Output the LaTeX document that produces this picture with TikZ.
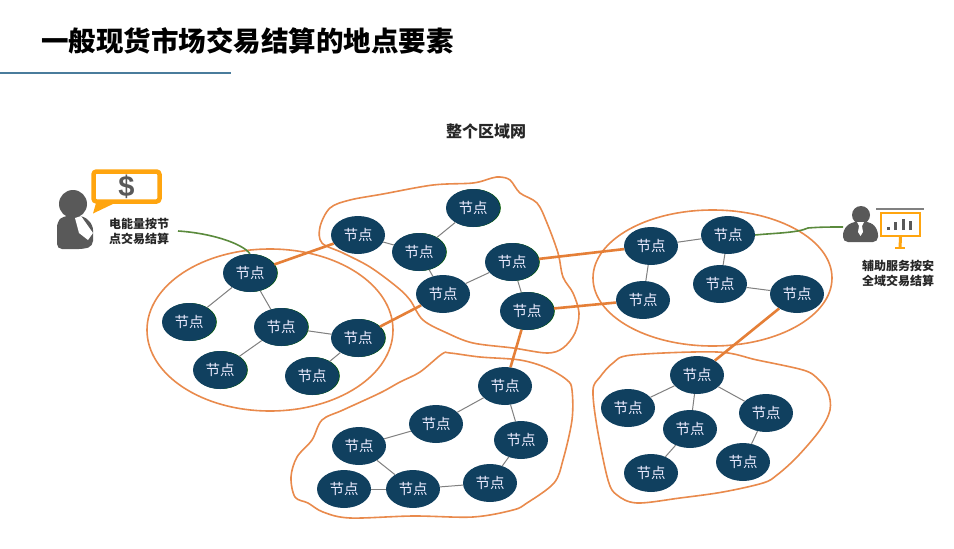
\documentclass[tikz,border=0pt]{standalone}
\usepackage{fontspec}
\setmainfont{Noto Sans CJK SC}
\newfontfamily\dollarfont{Liberation Sans}
\usepackage{xcolor}
\usepackage{tikz}
\usetikzlibrary{positioning, shapes.geometric}
\definecolor{shenlan}{HTML}{10405F}
\definecolor{jubian}{HTML}{E98A4C}
\definecolor{juxian}{HTML}{E57F37}
\definecolor{lvse}{HTML}{5A8A3C}
\definecolor{huise}{HTML}{595959}
\definecolor{chengse}{HTML}{FFA50F}
\definecolor{tiaose}{HTML}{4A7C9C}

\begin{document}
\begin{tikzpicture}[
  x=1pt, y=-1pt, on grid,
  jiedian/.style={ellipse, fill=shenlan, text=blue!8, font=\fontsize{14.5}{14.5}\selectfont, inner sep=0pt, minimum width=54pt, minimum height=38pt},
  jiedianlv/.style={jiedian, preaction={fill=green!35!black, transform canvas={xshift=.8pt}}},
  quyu/.style={draw=jubian, line width=1.6pt},
  lianxian/.style={draw=gray, line width=1pt},
  kuaxian/.style={draw=juxian, line width=2.6pt},
  lvxian/.style={draw=lvse, line width=1.6pt},
  biaozhu/.style={font=\fontsize{12}{15}\selectfont\bfseries, text=black!85, align=center, inner sep=0pt}
]
  \useasboundingbox (0,0) rectangle (954,549);
  \fill[white] (0,0) rectangle (954,549);

  \node[anchor=west, font=\fontsize{27.5}{30}\selectfont\bfseries, inner sep=0pt] (biaoti) at (41,41) {一般现货市场交易结算的地点要素};
  \fill[tiaose] (0,72) rectangle (231,74);
  \node[font=\fontsize{16}{18}\selectfont\bfseries, text=black!85, inner sep=0pt] (zhengge) at (486,131) {整个区域网};

  \draw[quyu] (270,330) ellipse [x radius=123, y radius=81];
  \draw[quyu] (712.5,278) ellipse [x radius=119.5, y radius=68];
  \draw[quyu] plot[smooth cycle, tension=.55] coordinates {(492,178) (500,177) (510,180) (520,193) (537,203) (547,223) (558,253) (563,277) (573,293) (579,313) (575,333) (563,348) (547,353) (513,348) (473,343) (447,333) (423,320) (410,300) (397,287) (370,267) (343,253) (322,243) (320,227) (330,208) (350,200) (383,194) (433,185) (473,183)};
  \draw[quyu] plot[smooth cycle, tension=.55] coordinates {(442,354) (450,353) (480,357) (520,360) (547,368) (567,380) (572,390) (572,420) (563,460) (554,483) (527,503) (513,510) (473,517) (413,516) (350,518) (323,512) (308,503) (295,497) (291,477) (297,457) (312,440) (322,420) (343,410) (380,393) (400,382) (420,372)};
  \draw[quyu] plot[smooth cycle, tension=.55] coordinates {(632,355) (717,352) (757,360) (803,370) (817,378) (828,392) (830,410) (820,430) (797,457) (777,475) (763,483) (723,492) (680,498) (637,503) (617,495) (608,480) (597,427) (593,390) (600,377) (613,363)};

  \node[jiedianlv] (a1) at (250,273) {节点};
  \node[jiedianlv, below left=49pt and 61pt of a1] (a2) {节点};
  \node[jiedianlv, below right=54pt and 31pt of a1] (a3) {节点};
  \node[jiedianlv, below right=11pt and 77pt of a3] (a4) {节点};
  \node[jiedianlv, below left=43pt and 61pt of a3] (a5) {节点};
  \node[jiedianlv, below left=38pt and 46pt of a4] (a6) {节点};

  \node[jiedian, above right=38pt and 108pt of a1] (b1) {节点};
  \node[jiedianlv, below right=17pt and 61pt of b1] (b2) {节点};
  \node[jiedianlv, above right=44pt and 54pt of b2] (b3) {节点};
  \node[jiedian, below right=42pt and 24pt of b2] (b4) {节点};
  \node[jiedianlv, above right=32pt and 69pt of b4] (b5) {节点};
  \node[jiedianlv, below right=49pt and 15pt of b5] (b6) {节点};

  \node[jiedian, above right=16pt and 139pt of b5] (c1) {节点};
  \node[jiedian, above right=11pt and 77pt of c1] (c2) {节点};
  \node[jiedian, below left=54pt and 8pt of c1] (c3) {节点};
  \node[jiedian, below left=49pt and 8pt of c2] (c4) {节点};
  \node[jiedian, below right=10pt and 77pt of c4] (c5) {节点};

  \node[jiedian, below left=75pt and 22pt of b6] (d1) {节点};
  \node[jiedian, below left=38pt and 69pt of d1] (d2) {节点};
  \node[jiedian, below left=22pt and 77pt of d2] (d3) {节点};
  \node[jiedian, below right=54pt and 16pt of d1] (d4) {节点};
  \node[jiedian, below right=43pt and 54pt of d3] (d6) {节点};
  \node[jiedian, left=69pt of d6] (d5) {节点};
  \node[jiedian, above right=6pt and 77pt of d6] (d7) {节点};

  \node[jiedian, below left=81pt and 100pt of c5] (e1) {节点};
  \node[jiedian, below left=33pt and 69pt of e1] (e2) {节点};
  \node[jiedian, below left=54pt and 7pt of e1] (e3) {节点};
  \node[jiedian, below right=38pt and 69pt of e1] (e4) {节点};
  \node[jiedian, below left=44pt and 39pt of e3] (e5) {节点};
  \node[jiedian, below left=49pt and 23pt of e4] (e6) {节点};

  \foreach \p/\q in {a1/a2, a1/a3, a3/a4, a3/a5, a4/a6, b1/b2, b2/b3, b2/b4, b4/b5, b5/b6, c1/c2, c1/c3, c2/c4, c4/c5, d1/d2, d2/d3, d1/d4, d3/d6, d5/d6, d6/d7, d4/d7, e1/e2, e1/e3, e1/e4, e3/e5, e4/e6}
    \draw[lianxian] (\p) -- (\q);
  \foreach \p/\q in {a1/b1, a4/b4, b5/c1, b6/c3, b6/d1, c5/e1}
    \draw[kuaxian] (\p) -- (\q);

  \node[circle, fill=huise, minimum size=28pt, inner sep=0pt] (touzuo) at (73,204) {};
  \fill[huise, rounded corners=5pt] (57,249) -- (57,222) -- (63,216) -- (84,216) -- (93,225) -- (93,246) -- (84,249) -- cycle;
  \fill[white] (75,218) -- (81,216) -- (93,233) -- (88,240) -- (79,233) -- cycle;
  \node[draw=chengse, line width=4.5pt, rounded corners=3pt, minimum width=66pt, minimum height=30pt, inner sep=0pt, text=huise, font=\dollarfont\fontsize{29}{29}\selectfont\bfseries] (qipao) at (126.5,186.5) {\$};
  \fill[chengse] (96,203) -- (115,203) -- (93,213.5) -- cycle;
  \node[biaozhu] (dianneng) at (139,231) {电能量按节\\点交易结算};

  \node[circle, fill=huise, minimum size=18pt, inner sep=0pt] (touyou) at (861,215) {};
  \fill[huise, rounded corners=5pt] (843,242) -- (843,230) -- (851,222) -- (871,222) -- (878,230) -- (878,242) -- cycle;
  \fill[white] (857,222) -- (864,222) -- (862,226) -- (863,232) -- (860.5,236) -- (858,232) -- (859,226) -- cycle;
  \draw[gray, line width=1.5pt] (876,209) -- (924,209);
  \node[draw=chengse, fill=white, line width=2.2pt, minimum width=39pt, minimum height=23pt, inner sep=0pt] (ban) at (900.5,224.5) {};
  \foreach \x/\top in {888/227, 895/222, 903/219, 910/221}
    \draw[huise, line width=3pt] (\x,230) -- (\x,\top);
  \draw[chengse, line width=3pt] (ban.south) -- (900,248);
  \draw[chengse, line width=2pt] (895,248) -- (905,248);
  \node[biaozhu] (fuzhu) at (898,273.5) {辅助服务按安\\全域交易结算};

  \coordinate (zuoduan) at (178,231);
  \coordinate (youduan) at (843,227);
  \draw[lvxian] (zuoduan) .. controls (210,233) and (242,243) .. (a1.north);
  \draw[lvxian] (c2.east) .. controls (775,233) and (797,233) .. (808,228) .. controls (820,227) and (830,227) .. (youduan);
\end{tikzpicture}
\end{document}
